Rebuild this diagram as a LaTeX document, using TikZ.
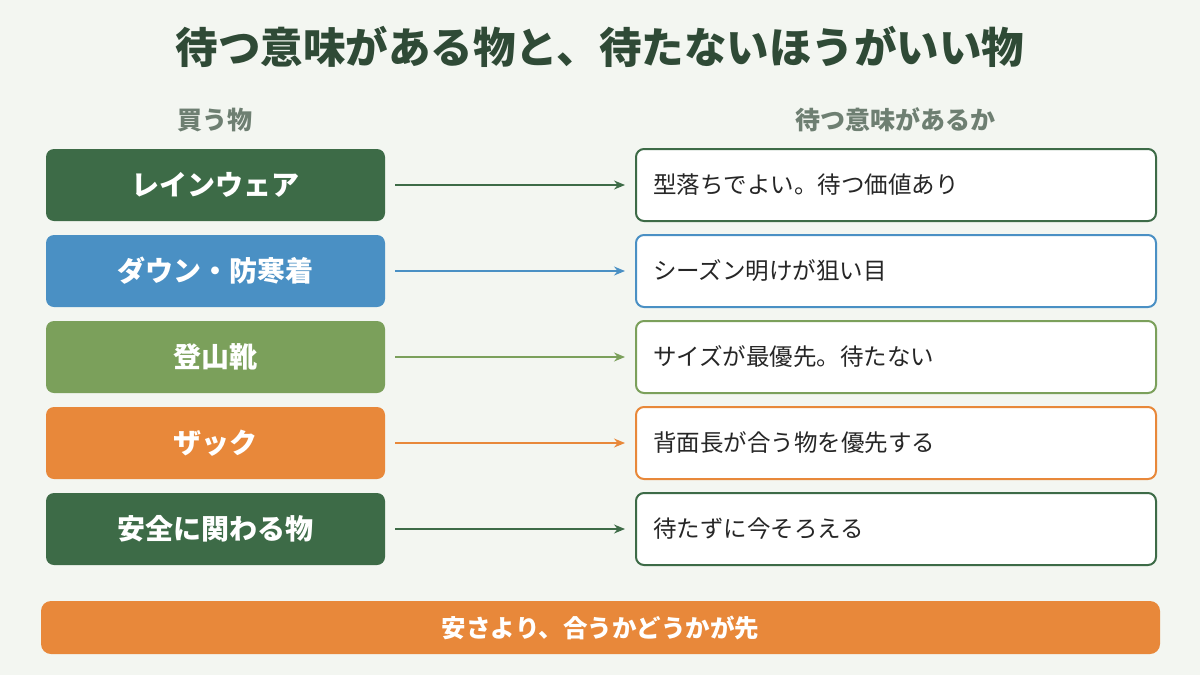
\documentclass[tikz,border=0pt]{standalone}
\usepackage{fontspec}
\setmainfont{Noto Sans CJK JP}
\usetikzlibrary{positioning,arrows.meta}
\definecolor{bgc}{HTML}{F3F6F1}
\definecolor{titlec}{HTML}{2F4A36}
\definecolor{darkg}{HTML}{3D6B47}
\definecolor{bluec}{HTML}{4A90C4}
\definecolor{lightg}{HTML}{7BA05B}
\definecolor{orangec}{HTML}{E8883A}
\definecolor{headc}{HTML}{6E7F72}
\begin{document}
\begin{tikzpicture}[x=1pt,y=-1pt,
                itemnode/.style={rectangle, rounded corners=8pt, minimum width=339pt, minimum height=72pt, text=white, font=\fontsize{28}{32}\selectfont\bfseries},
                notenode/.style={rectangle, rounded corners=8pt, draw, line width=2pt, fill=white, minimum width=520pt, minimum height=72pt, text width=486pt, align=left, text=black!85, font=\fontsize{23.5}{28}\selectfont},
                headnode/.style={text=headc, font=\fontsize{25}{30}\selectfont\bfseries},
                linkarrow/.style={-{Stealth[length=11pt,width=9pt]}, line width=1.5pt},
            ]
            \fill[bgc] (0,0) rectangle (1200,675);
            % Title and headers
            \node[text=titlec, font=\fontsize{42.5}{48}\selectfont\bfseries] (title) at (600,47) {待つ意味がある物と、待たないほうがいい物};
            \node[headnode] (head_buy) at (215,120) {買う物};
            \node[headnode] (head_wait) at (895,120) {待つ意味があるか};

            % Rows
            \foreach \row/\col/\item/\note in {
                    185/darkg/レインウェア/型落ちでよい。待つ価値あり,
                    271/bluec/ダウン・防寒着/シーズン明けが狙い目,
                    357/lightg/登山靴/サイズが最優先。待たない,
                    443/orangec/ザック/背面長が合う物を優先する,
                    529/darkg/安全に関わる物/待たずに今そろえる}{
                \node[itemnode, fill=\col] (item_\row) at (215.5,\row) {\item};
                \node[notenode, draw=\col] (note_\row) at (896,\row) {\note};
                \draw[linkarrow, draw=\col, fill=\col] ([xshift=10pt]item_\row.east) -- ([xshift=-10pt]note_\row.west);
            }

            % Bottom bar
            \node[rectangle, rounded corners=10pt, fill=orangec, minimum width=1119pt, minimum height=53pt, text=white, font=\fontsize{24.5}{28}\selectfont\bfseries] (summary) at (600.5,627.5) {安さより、合うかどうかが先};
        \end{tikzpicture}
\end{document}
